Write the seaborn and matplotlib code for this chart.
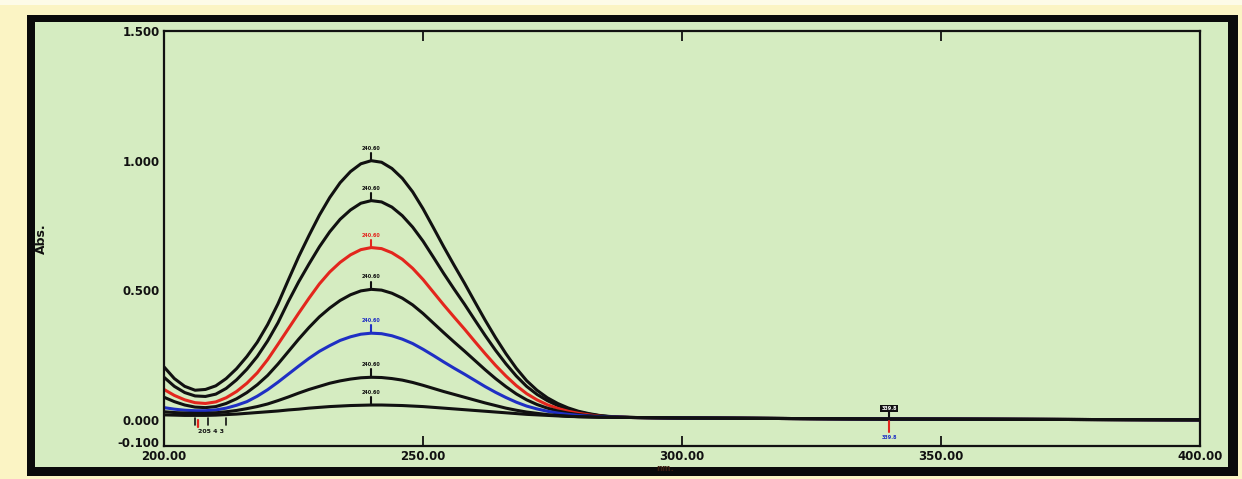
import matplotlib
matplotlib.use("Agg")
import matplotlib.pyplot as plt
from matplotlib.patches import Rectangle
from matplotlib.transforms import offset_copy
import seaborn as sns
import pandas as pd

# ---------------- data ----------------
wavelength = list(range(200, 292, 2)) + [300, 320, 340, 360, 380, 400]

s1 = [0.205, 0.160, 0.130, 0.115, 0.118, 0.132, 0.160, 0.198, 0.245, 0.300,
      0.368, 0.448, 0.540, 0.630, 0.712, 0.790, 0.858, 0.915, 0.958, 0.988,
      1.000, 0.994, 0.970, 0.932, 0.880, 0.815, 0.742, 0.668, 0.597, 0.528,
      0.456, 0.385, 0.318, 0.256, 0.200, 0.152, 0.115, 0.086, 0.064, 0.047,
      0.034, 0.025, 0.018, 0.014, 0.012, 0.010,
      0.008, 0.006, 0.004, 0.003, 0.002, 0.001]
s2 = [0.165, 0.130, 0.106, 0.093, 0.091, 0.100, 0.122, 0.155, 0.196, 0.245,
      0.305, 0.375, 0.457, 0.533, 0.602, 0.668, 0.726, 0.774, 0.810, 0.836,
      0.846, 0.841, 0.821, 0.788, 0.744, 0.690, 0.628, 0.565, 0.505, 0.447,
      0.386, 0.326, 0.269, 0.217, 0.170, 0.130, 0.099, 0.075, 0.056, 0.042,
      0.031, 0.023, 0.017, 0.013, 0.011, 0.010,
      0.008, 0.006, 0.004, 0.003, 0.002, 0.001]
s3 = [0.118, 0.095, 0.078, 0.067, 0.064, 0.070, 0.086, 0.110, 0.142, 0.182,
      0.233, 0.292, 0.352, 0.412, 0.470, 0.525, 0.571, 0.608, 0.637, 0.657,
      0.665, 0.661, 0.645, 0.620, 0.585, 0.542, 0.493, 0.444, 0.397, 0.351,
      0.303, 0.256, 0.211, 0.170, 0.133, 0.102, 0.078, 0.059, 0.045, 0.034,
      0.026, 0.020, 0.015, 0.012, 0.011, 0.010,
      0.008, 0.006, 0.004, 0.003, 0.002, 0.001]
s4 = [0.088, 0.071, 0.058, 0.050, 0.048, 0.052, 0.064, 0.082, 0.106, 0.136,
      0.172, 0.216, 0.264, 0.312, 0.357, 0.398, 0.432, 0.461, 0.483, 0.498,
      0.504, 0.501, 0.489, 0.470, 0.444, 0.411, 0.374, 0.337, 0.301, 0.266,
      0.230, 0.194, 0.160, 0.129, 0.101, 0.078, 0.060, 0.046, 0.035, 0.027,
      0.021, 0.017, 0.014, 0.012, 0.011, 0.010,
      0.008, 0.006, 0.004, 0.003, 0.002, 0.001]
s5 = [0.048, 0.042, 0.038, 0.036, 0.036, 0.039, 0.046, 0.057, 0.071, 0.092,
      0.117, 0.146, 0.177, 0.208, 0.238, 0.265, 0.287, 0.307, 0.321, 0.331,
      0.335, 0.333, 0.325, 0.312, 0.295, 0.273, 0.249, 0.224, 0.200, 0.177,
      0.153, 0.129, 0.107, 0.087, 0.069, 0.054, 0.043, 0.034, 0.027, 0.022,
      0.018, 0.015, 0.013, 0.012, 0.011, 0.010,
      0.008, 0.006, 0.004, 0.003, 0.002, 0.001]
s6 = [0.032, 0.029, 0.027, 0.026, 0.026, 0.028, 0.032, 0.037, 0.044, 0.052,
      0.062, 0.075, 0.089, 0.104, 0.118, 0.130, 0.142, 0.151, 0.158, 0.163,
      0.165, 0.164, 0.160, 0.154, 0.145, 0.134, 0.122, 0.110, 0.099, 0.088,
      0.077, 0.066, 0.056, 0.046, 0.038, 0.031, 0.026, 0.021, 0.018, 0.015,
      0.013, 0.012, 0.011, 0.011, 0.010, 0.010,
      0.008, 0.006, 0.004, 0.003, 0.002, 0.001]
s7 = [0.020, 0.019, 0.018, 0.018, 0.018, 0.019, 0.021, 0.023, 0.026, 0.029,
      0.032, 0.035, 0.039, 0.042, 0.046, 0.049, 0.052, 0.054, 0.056, 0.057,
      0.058, 0.058, 0.057, 0.056, 0.054, 0.052, 0.049, 0.046, 0.043, 0.040,
      0.037, 0.034, 0.031, 0.028, 0.025, 0.022, 0.020, 0.018, 0.016, 0.014,
      0.013, 0.012, 0.011, 0.011, 0.010, 0.010,
      0.008, 0.006, 0.004, 0.003, 0.002, 0.001]

series_names = ["S1", "S2", "S3", "S4", "S5", "S6", "S7"]
series_values = [s1, s2, s3, s4, s5, s6, s7]
series_colors = ["#111111", "#111111", "#e3261d", "#111111", "#1f2fc4", "#111111", "#111111"]

peak_nm = 240
peak_label = "240.60"
min_marks_nm = [206, 208.5, 212]
pick_nm = 340.0

x_ticks = [200, 250, 300, 350, 400]
x_tick_labels = ["200.00", "250.00", "300.00", "350.00", "400.00"]
y_ticks = [-0.1, 0.0, 0.5, 1.0, 1.5]
y_tick_labels = ["-0.100", "0.000", "0.500", "1.000", "1.500"]

# ---------------- build long-form table ----------------
rows = []
for name, vals in zip(series_names, series_values):
    for w, v in zip(wavelength, vals):
        rows.append({"nm": w, "Abs": v, "series": name})
df = pd.DataFrame(rows)

# ---------------- figure ----------------
sns.set_style("white")
plt.rcParams["font.family"] = ["DejaVu Sans"]

W, H = 1242, 479
fig = plt.figure(figsize=(W / 100, H / 100), dpi=100)
cream = "#fbf4c4"
green = "#d5ecc1"
fig.patch.set_facecolor(cream)

def px_rect(x0, y0, x1, y1, color, z):
    fig.add_artist(Rectangle((x0 / W, 1 - y1 / H), (x1 - x0) / W, (y1 - y0) / H,
                             transform=fig.transFigure, facecolor=color,
                             edgecolor="none", zorder=z))

px_rect(0, 0, W, 5, "#fdfbe8", -12)
px_rect(27, 15, 1238, 476, "#0a0a0a", -11)
px_rect(35, 22, 1228, 467, green, -10)

ax = fig.add_axes([164 / W, 1 - 446 / H, (1200 - 164) / W, (446 - 31) / H])
ax.set_facecolor(green)

palette = dict(zip(series_names, series_colors))
sns.lineplot(data=df, x="nm", y="Abs", hue="series", palette=palette,
             linewidth=2.2, legend=False, ax=ax, sort=False)

ax.set_xlim(200, 400)
ax.set_ylim(-0.1, 1.5)

# peak markers
pidx = wavelength.index(peak_nm)
for name, vals, col in zip(series_names, series_values, series_colors):
    pv = vals[pidx]
    ax.plot([peak_nm, peak_nm], [pv, pv + 0.03], color=col, lw=1.5)
    ax.text(peak_nm, pv + 0.038, peak_label, color=col, fontsize=3.5,
            fontweight="bold", ha="center", va="bottom")

# minima markers
for m in min_marks_nm:
    ax.plot([m, m], [0.008, -0.02], color="#111111", lw=1.2)
ax.plot([206.5, 206.5], [0.0, -0.025], color="#e3261d", lw=1.6)
ax.text(209, -0.045, "205 4 3", fontsize=4.5, fontweight="bold", ha="center",
        va="center", color="#111111")

# picked point near 340 nm
ax.plot([pick_nm, pick_nm], [0.004, 0.03], color="#111111", lw=1.5)
ax.text(pick_nm, 0.035, "339.8", fontsize=3.5, fontweight="bold", ha="center",
        va="bottom", color="white",
        bbox=dict(boxstyle="square,pad=0.2", fc="#111111", ec="none"))
ax.plot([pick_nm, pick_nm], [-0.003, -0.045], color="#e3261d", lw=1.5)
ax.text(pick_nm, -0.068, "339.8", fontsize=3.5, fontweight="bold", ha="center",
        va="center", color="#1f2fc4")

# axes styling
for sp in ax.spines.values():
    sp.set_color("#111111")
    sp.set_linewidth(1.6)

ax.set_xticks(x_ticks)
ax.set_xticklabels(x_tick_labels)
ax.set_yticks(y_ticks)
ax.set_yticklabels(y_tick_labels)
ax.tick_params(axis="both", direction="in", length=7, width=1.3, color="#111111",
               labelsize=8.5, pad=3, labelcolor="#111111")
ax.tick_params(axis="x", top=True, bottom=True, pad=3)
for lab in ax.get_xticklabels() + ax.get_yticklabels():
    lab.set_fontweight("bold")

# lift the lowest y label a little so it clears the first x label
fig.canvas.draw()
ylabs = ax.get_yticklabels()
ylabs[0].set_va("bottom")
ylabs[0].set_transform(offset_copy(ylabs[0].get_transform(), fig=fig, x=0, y=-4, units="dots"))

ax.set_xlabel("nm.", fontsize=6, fontweight="bold", color="#3a1a10")
ax.set_ylabel("Abs.", fontsize=9, fontweight="bold", color="#111111")
ax.xaxis.set_label_coords(0.484, -0.044)
ax.yaxis.set_label_coords(-0.112, 0.5)

fig.savefig("out.png", dpi=100, facecolor=fig.get_facecolor())
